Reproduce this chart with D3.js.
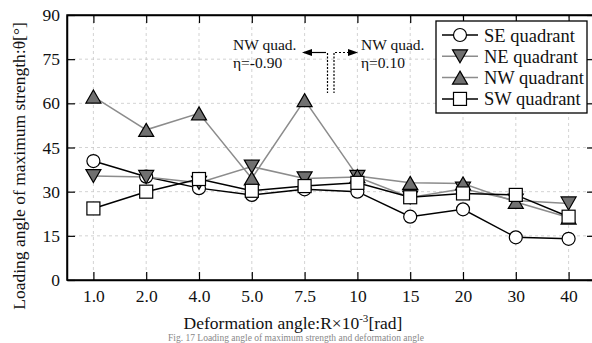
<!DOCTYPE html>
<html>
<head>
<meta charset="utf-8">
<script src="https://cdn.jsdelivr.net/npm/d3@7"></script>
<style>
  html, body { margin: 0; padding: 0; background: #fff; }
  svg { display: block; }
  svg text { font-family: "Liberation Serif", Tinos, "Times New Roman", "DejaVu Serif", serif; }
</style>
</head>
<body>
<svg id="chart" width="592" height="343"></svg>
<script>
// deformation angle categories (x 10^-3 rad)
const categories = ['1.0', '2.0', '4.0', '5.0', '7.5', '10', '15', '20', '30', '40'];
const yTicks = [0, 15, 30, 45, 60, 75, 90];

// loading angle of maximum strength, degrees
const seValues = [40.4, 35.1, 31.2, 28.9, 30.8, 30.0, 21.5, 24.0, 14.5, 14.0];
const neValues = [35.3, 35.0, 33.0, 38.5, 34.5, 35.0, 28.0, 31.0, 27.0, 26.0];
const nwValues = [62.3, 51.0, 56.6, 34.5, 61.1, 35.3, 33.0, 32.8, 26.5, 21.2];
const swValues = [24.3, 30.0, 34.3, 30.3, 31.9, 33.0, 28.1, 29.4, 28.9, 21.5];

const seriesNames = ['SE quadrant', 'NE quadrant', 'NW quadrant', 'SW quadrant'];

const margin = {top: 15, right: -3, bottom: 63, left: 67};
const width = 592, height = 343;
const innerW = width - margin.left - margin.right;
const innerH = height - margin.top - margin.bottom;

const svg = d3.select('#chart');
const g = svg.append('g').attr('transform', `translate(${margin.left},${margin.top})`);

const x = d3.scalePoint().domain(categories).range([0, innerW]).padding(0.5);
const y = d3.scaleLinear().domain([0, 90]).range([innerH, 0]);

// grid
const grid = g.append('g').attr('stroke', '#c8c8c8').attr('stroke-dasharray', '3,3').attr('stroke-width', 0.8);
grid.selectAll('.gx').data(categories).join('line')
  .attr('x1', d => x(d)).attr('x2', d => x(d)).attr('y1', 0).attr('y2', innerH);
grid.selectAll('.gy').data(yTicks.slice(1, -1)).join('line')
  .attr('x1', 0).attr('x2', innerW).attr('y1', d => y(d)).attr('y2', d => y(d));

// axes with inward ticks
const fontSize = '17.5px';
g.append('g').attr('transform', `translate(0,${innerH})`)
  .call(d3.axisBottom(x).tickSizeInner(-8).tickSizeOuter(0).tickPadding(10));
g.append('g')
  .call(d3.axisLeft(y).tickValues(yTicks).tickSizeInner(-8).tickSizeOuter(0).tickPadding(7));
g.append('g').call(d3.axisTop(x).tickSizeInner(-8).tickSizeOuter(0).tickFormat(''));
g.append('g').attr('transform', `translate(${innerW},0)`)
  .call(d3.axisRight(y).tickValues(yTicks).tickSizeInner(-8).tickSizeOuter(0).tickFormat(''));
g.selectAll('.domain').attr('stroke', '#000').attr('stroke-width', 1.5);
g.selectAll('.tick line').attr('stroke', '#000').attr('stroke-width', 1.2);
g.selectAll('.tick text').attr('font-family', null).attr('font-size', fontSize).attr('fill', '#111');
g.selectAll('g').attr('font-family', null);

// plot frame
g.append('rect').attr('width', innerW).attr('height', innerH)
  .attr('fill', 'none').attr('stroke', '#000').attr('stroke-width', 1.5);

// markers
function triPath(dir) {
  const w = 7.5, h = 6.5;
  return dir > 0
    ? `M0,${-h}L${w},${h}L${-w},${h}Z`
    : `M0,${h}L${w},${-h}L${-w},${-h}Z`;
}
function drawMarker(sel, type) {
  if (type === 'circle') {
    sel.append('circle').attr('r', 6.5).attr('fill', '#fff');
  } else if (type === 'square') {
    sel.append('rect').attr('x', -6.5).attr('y', -6.5).attr('width', 13).attr('height', 13).attr('fill', '#fff');
  } else {
    sel.append('path').attr('d', triPath(type === 'up' ? 1 : -1)).attr('fill', '#707070');
  }
  sel.selectAll('*').attr('stroke', '#000').attr('stroke-width', 1.2);
}

const series = [
  {name: seriesNames[0], values: seValues, color: '#000', marker: 'circle'},
  {name: seriesNames[1], values: neValues, color: '#8c8c8c', marker: 'down'},
  {name: seriesNames[2], values: nwValues, color: '#8c8c8c', marker: 'up'},
  {name: seriesNames[3], values: swValues, color: '#000', marker: 'square'},
];

const line = d3.line().x((d, i) => x(categories[i])).y(d => y(d));
series.forEach(s => {
  g.append('path').datum(s.values).attr('d', line)
    .attr('fill', 'none').attr('stroke', s.color).attr('stroke-width', 1.5);
});
series.forEach(s => {
  g.append('g').selectAll('g').data(s.values).join('g')
    .attr('transform', (d, i) => `translate(${x(categories[i])},${y(d)})`)
    .each(function() { drawMarker(d3.select(this), s.marker); });
});

// annotation
const ann = svg.append('g').attr('font-size', '15.5px').attr('fill', '#111');
ann.append('text').attr('x', 233).attr('y', 50).text('NW quad.');
ann.append('text').attr('x', 233).attr('y', 68).text('η=-0.90');
ann.append('text').attr('x', 361).attr('y', 50).text('NW quad.');
ann.append('text').attr('x', 361).attr('y', 68).text('η=0.10');
const arr = svg.append('g').attr('stroke', '#000').attr('stroke-width', 1.2);
arr.append('line').attr('x1', 310).attr('x2', 326).attr('y1', 52.5).attr('y2', 52.5);
arr.append('line').attr('x1', 335).attr('x2', 350).attr('y1', 52.5).attr('y2', 52.5).attr('stroke-dasharray', '2,2');
arr.append('line').attr('x1', 327.5).attr('x2', 327.5).attr('y1', 53).attr('y2', 93).attr('stroke-dasharray', '2,1.5');
arr.append('line').attr('x1', 334).attr('x2', 334).attr('y1', 53).attr('y2', 93).attr('stroke-dasharray', '2,1.5');
svg.append('path').attr('d', 'M302,52.5L312,49L312,56Z').attr('fill', '#000');
svg.append('path').attr('d', 'M358,52.5L348,49L348,56Z').attr('fill', '#000');

// legend
const leg = svg.append('g').attr('transform', 'translate(436,21)');
leg.append('rect').attr('width', 151).attr('height', 92)
  .attr('fill', '#fff').attr('stroke', '#000').attr('stroke-width', 1.3);
series.forEach((s, i) => {
  const row = leg.append('g').attr('transform', `translate(0,${14 + i * 21.3})`);
  row.append('line').attr('x1', 6).attr('x2', 42).attr('y1', 0).attr('y2', 0)
    .attr('stroke', s.color).attr('stroke-width', 1.5);
  const m = row.append('g').attr('transform', 'translate(24,0)');
  drawMarker(m, s.marker);
  row.append('text').attr('x', 48).attr('y', 6.5).attr('font-size', '18.5px').attr('fill', '#111').text(s.name);
});

// axis titles
svg.append('text')
  .attr('transform', 'translate(25,166) rotate(-90)')
  .attr('text-anchor', 'middle').attr('font-size', '17.5px').attr('fill', '#111')
  .text('Loading angle of maximum strength:θ[°]');
const xt = svg.append('text').attr('x', 293).attr('y', 329)
  .attr('text-anchor', 'middle').attr('font-size', '17.5px').attr('fill', '#111');
xt.append('tspan').text('Deformation angle:R×10');
xt.append('tspan').attr('dy', -7).attr('font-size', '11px').text('-3');
xt.append('tspan').attr('dy', 7).text('[rad]');

// figure caption, squeezed in under the axis title
svg.append('text').attr('x', 296).attr('y', 341).attr('text-anchor', 'middle')
  .attr('font-size', '9.5px').attr('fill', '#888')
  .text('Fig. 17  Loading angle of maximum strength and deformation angle');
</script>
</body>
</html>
